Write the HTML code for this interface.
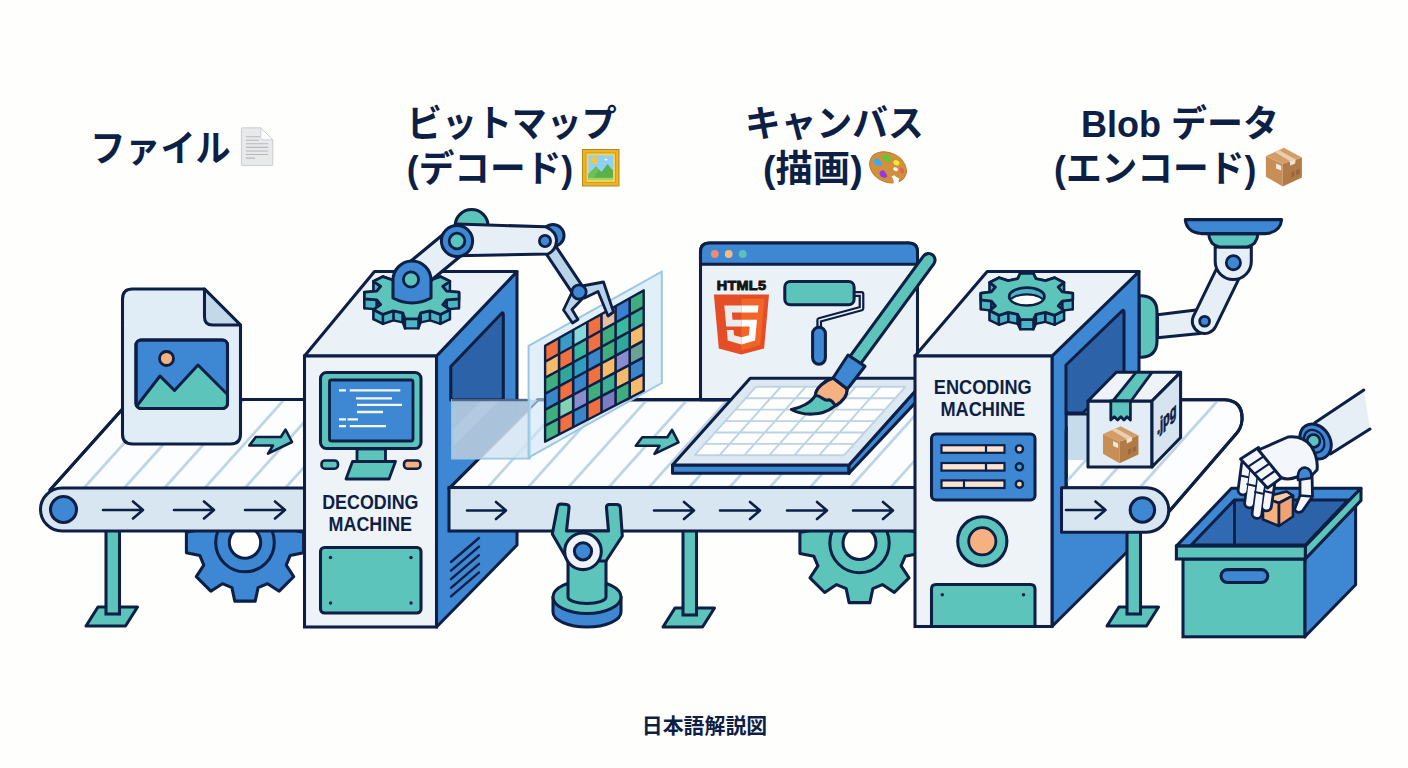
<!DOCTYPE html>
<html lang="ja"><head><meta charset="utf-8"><title>日本語解説図</title>
<style>
html,body{margin:0;padding:0;background:#fefefd;}
body{width:1408px;height:768px;overflow:hidden;}
svg{display:block}
text{font-family:"Liberation Sans","Noto Sans CJK JP",sans-serif;}
.t{font-weight:700;fill:#0e1f45;}
</style></head><body>
<svg width="1408" height="768" viewBox="0 0 1408 768">
<rect width="1408" height="768" fill="#fefefd"/>
<text class="t" transform="translate(90.2 161.5) scale(0.950 1)" font-size="37" text-anchor="start" >ファイル</text>
<text class="t" transform="translate(407.0 137.2) scale(0.945 1)" font-size="37" text-anchor="start" >ビットマップ</text>
<text class="t" transform="translate(406.8 181.5) scale(0.964 1)" font-size="37" text-anchor="start" >(デコード)</text>
<text class="t" transform="translate(745.1 137.2) scale(0.966 1)" font-size="37" text-anchor="start" >キャンバス</text>
<text class="t" transform="translate(763.0 181.5) scale(1.010 1)" font-size="37" text-anchor="start" >(描画)</text>
<text class="t" transform="translate(1081.0 137.2) scale(0.974 1)" font-size="37" text-anchor="start" >Blob データ</text>
<text class="t" transform="translate(1054.0 181.5) scale(0.966 1)" font-size="37" text-anchor="start" >(エンコード)</text>
<text class="t" transform="translate(704.5 732.6) scale(1.000 1)" font-size="20.9" text-anchor="middle" >日本語解説図</text>
<g transform="translate(241 127)">
<path d="M1.2 0.8 Q0.4 0.8 0.4 1.6 V37.8 Q0.4 38.6 1.2 38.6 H31 Q31.8 38.6 31.8 37.8 V12.8 L19.8 0.8Z" fill="#e7e9eb" stroke="#c6cacd" stroke-width="0.9"/>
<path d="M19.8 0.8 L31.8 12.8 H22 Q19.8 12.8 19.8 10.6Z" fill="#fbfbfb" stroke="#c6cacd" stroke-width="0.8"/>
<g stroke="#b4b9bd" stroke-width="1.1"><path d="M5 9.7H19M5 13.3H18M5 16.8H27.3M5 20.4H27.3M5 24H27.3M5 27.5H27.3M5 31.1H14"/></g>
</g>
<g transform="translate(582 149)">
<rect x="0.5" y="0.5" width="36.5" height="36.5" fill="#e9b32c" stroke="#b98713" stroke-width="1"/>
<rect x="4" y="4" width="29.5" height="29.5" fill="#f7d257" stroke="#c9961c" stroke-width="0.8"/>
<rect x="6.5" y="6.5" width="24.5" height="24.5" fill="#8fd1f5"/>
<path d="M6.5 31 V25 L14 17.5 L19.5 23 L25.5 15 L31 21.5 V31Z" fill="#5cb04a"/>
<path d="M6.5 31 V25 L14 17.5 L17 21 L10 31Z" fill="#6cc057"/>
<rect x="6.5" y="28.8" width="24.5" height="2.2" fill="#9bdb5b"/>
<circle cx="12.3" cy="11.5" r="3.2" fill="#fbc62d"/>
<ellipse cx="24" cy="10.6" rx="1.6" ry="0.9" fill="#ffffff"/>
</g>
<g>
<ellipse cx="888" cy="167.4" rx="19.3" ry="14.6" transform="rotate(27 888 167.4)" fill="#d1903c" stroke="#b87a2c" stroke-width="0.9"/>
<path d="M894 175.3 Q897 177.6 899.3 178.6 L897.5 186 L893 186 Q894.8 180 891.5 176.5Z" fill="#fefefd"/>
<ellipse cx="895.6" cy="169.2" rx="3" ry="2.2" transform="rotate(27 895.6 169.2)" fill="#fefefd" stroke="#b87a2c" stroke-width="0.7"/>
<ellipse cx="877.6" cy="162.3" rx="4.4" ry="3" transform="rotate(35 877.6 162.3)" fill="#3fa9f0"/>
<ellipse cx="886.6" cy="158.2" rx="4.3" ry="2.8" transform="rotate(27 886.6 158.2)" fill="#4fd13c"/>
<ellipse cx="896.4" cy="162.8" rx="3.2" ry="2.6" transform="rotate(27 896.4 162.8)" fill="#f7e52e"/>
<ellipse cx="901.9" cy="170.6" rx="1.9" ry="3" transform="rotate(-25 901.9 170.6)" fill="#ee5a63"/>
<path d="M879.5 173 Q881 169 884.5 171 L887.5 176 Q886 178.5 884.3 177.3 L884 179 L883 177.2 Q880 177.5 879.5 173Z" fill="#9a35e0"/>
</g>
<g transform="translate(1265.5 147.8)"><path d="M0.4 8.2 L17.2 16 V38.7 L0.4 28.9Z" fill="#c78e56"/>
<path d="M17.2 16 L36.4 9.8 V29.7 L17.2 38.7Z" fill="#b27a46"/>
<path d="M0.4 8.2 L18.4 0 L36.4 9.8 L17.2 16Z" fill="#d49c66"/>
<path d="M9.4 4.3 L13.7 2.4 L30.1 11.7 L24.3 13.3Z" fill="#e8cfb4"/>
<path d="M24.3 13.3 L30.1 11.7 L29.7 15.6 L24.7 18Z" fill="#f0e2d2"/>
<path d="M10.6 15.6 L15.7 18 V22.7 L10.6 20.7Z" fill="#eeeae4"/>
<path d="M25.8 24.5 l3.2 -1.3 v5 l-3.2 1.4z M30.6 22.4 l3.4 -1.4 v5 l-3.4 1.5z" fill="#96683d"/></g>
<path d="M290.1 529.4 L303.6 532.3 L303.6 552.7 L290.1 555.6 L286.2 565.1 L293.7 576.7 L279.2 591.2 L267.6 583.7 L258.1 587.6 L255.2 601.1 L234.8 601.1 L231.9 587.6 L222.4 583.7 L210.8 591.2 L196.3 576.7 L203.8 565.1 L199.9 555.6 L186.4 552.7 L186.4 532.3 L199.9 529.4 L203.8 519.9 L196.3 508.3 L210.8 493.8 L222.4 501.3 L231.9 497.4 L234.8 483.9 L255.2 483.9 L258.1 497.4 L267.6 501.3 L279.2 493.8 L293.7 508.3 L286.2 519.9Z" fill="#3e87d2" stroke="#0e1f45" stroke-width="3.05" stroke-linejoin="round" stroke-linecap="round" />
<circle cx="245.0" cy="542.5" r="29.3" fill="#3e87d2" stroke="#0e1f45" stroke-width="3.05"/>
<circle cx="245.0" cy="542.5" r="15.7" fill="#fefefd" stroke="#0e1f45" stroke-width="3.05"/>
<polygon points="98.0,607.0 137.5,607.0 125.5,626.0 86.0,626.0" fill="#5cc4bb" stroke="#0e1f45" stroke-width="3.05" stroke-linejoin="round" />
<rect x="106.0" y="528.0" width="13.5" height="86.0" rx="0.0" fill="#5cc4bb" stroke="#0e1f45" stroke-width="3.05" />
<clipPath id="cb1"><polygon points="50,490 131,399.5 306,399.5 306,490"/></clipPath>
<polygon points="50.0,490.0 131.0,399.5 306.0,399.5 306.0,490.0" fill="#fbfdfe" stroke="#0e1f45" stroke-width="3.05" stroke-linejoin="round" />
<path d="M2.4 489 L82.7 399.5 M42.7 489 L123.0 399.5 M83.0 489 L163.3 399.5 M123.3 489 L203.6 399.5 M163.6 489 L243.9 399.5 M203.9 489 L284.2 399.5 M244.2 489 L324.5 399.5 M284.5 489 L364.8 399.5 M324.8 489 L405.1 399.5 M365.1 489 L445.4 399.5" stroke="#bfd4e5" stroke-width="2.7" fill="none" clip-path="url(#cb1)"/>
<polygon points="50.0,490.0 131.0,399.5 306.0,399.5 306.0,490.0" fill="none" stroke="#0e1f45" stroke-width="3.05" stroke-linejoin="round" />
<path d="M62 488 H306 V531 H62 A21.5 21.5 0 0 1 62 488Z" fill="#d8e6f1" stroke="#0e1f45" stroke-width="3.05" stroke-linejoin="round" stroke-linecap="round" />
<circle cx="63.5" cy="509.5" r="13.0" fill="#3e87d2" stroke="#0e1f45" stroke-width="3.05"/>
<path d="M103.0 510.0 H143.0 M133.0 501.5 L143.0 510.0 L133.0 518.5" fill="none" stroke="#0e1f45" stroke-width="2.6" stroke-linejoin="round" stroke-linecap="round" stroke-linejoin="miter"/>
<path d="M174.0 510.0 H214.0 M204.0 501.5 L214.0 510.0 L204.0 518.5" fill="none" stroke="#0e1f45" stroke-width="2.6" stroke-linejoin="round" stroke-linecap="round" stroke-linejoin="miter"/>
<path d="M245.0 510.0 H285.0 M275.0 501.5 L285.0 510.0 L275.0 518.5" fill="none" stroke="#0e1f45" stroke-width="2.6" stroke-linejoin="round" stroke-linecap="round" stroke-linejoin="miter"/>
<polygon points="255.8,437.0 280.8,437.0 285.5,429.6 292.0,442.0 268.0,453.6 273.0,445.5 249.3,445.5" fill="#5cc4bb" stroke="#0e1f45" stroke-width="2.6" stroke-linejoin="round" />
<path d="M132.5 289 H204.5 L240.5 325 V434 Q240.5 444 230.5 444 H132.5 Q122.5 444 122.5 434 V299 Q122.5 289 132.5 289Z" fill="#e0ecf6" stroke="#0e1f45" stroke-width="3.05" stroke-linejoin="round" stroke-linecap="round" />
<path d="M204.5 289 L240.5 325 H212.5 Q204.5 325 204.5 317Z" fill="#c3d9ea" stroke="#0e1f45" stroke-width="3.05" stroke-linejoin="round" stroke-linecap="round" />
<rect x="136.0" y="340.0" width="91.5" height="68.5" rx="5.0" fill="#3e87d2" stroke="#0e1f45" stroke-width="3.05" />
<clipPath id="cimg"><rect x="137.6" y="341.6" width="88.3" height="65.3" rx="3.5"/></clipPath>
<path d="M136 407 L160 376 L174.5 390.5 L198 365 L228 395 V409 H136Z" fill="#5cc4bb" stroke="#0e1f45" stroke-width="3" stroke-linejoin="round" stroke-linecap="round" clip-path="url(#cimg)"/>
<rect x="136.0" y="340.0" width="91.5" height="68.5" rx="5.0" fill="none" stroke="#0e1f45" stroke-width="3.05" />
<circle cx="166.5" cy="358.5" r="7.0" fill="#f6b180" stroke="#0e1f45" stroke-width="2.8"/>
<polygon points="436.5,356.0 517.0,271.5 517.0,545.0 436.5,627.0" fill="#3e87d2" stroke="#0e1f45" stroke-width="3.05" stroke-linejoin="round" />
<line x1="451.0" y1="562.0" x2="479.0" y2="538.0" stroke="#0e1f45" stroke-width="2.4" stroke-linecap="round" />
<line x1="451.0" y1="570.6" x2="479.0" y2="546.6" stroke="#0e1f45" stroke-width="2.4" stroke-linecap="round" />
<line x1="451.0" y1="579.2" x2="479.0" y2="555.2" stroke="#0e1f45" stroke-width="2.4" stroke-linecap="round" />
<line x1="451.0" y1="587.8" x2="479.0" y2="563.8" stroke="#0e1f45" stroke-width="2.4" stroke-linecap="round" />
<line x1="451.0" y1="596.4" x2="479.0" y2="572.4" stroke="#0e1f45" stroke-width="2.4" stroke-linecap="round" />
<path d="M450.8 400 V366.5 L501.5 313.5 Q503.3 311.5 503.3 315 V400Z" fill="#2b62a8" stroke="#0e1f45" stroke-width="3.05" stroke-linejoin="round" stroke-linecap="round" />
<path d="M496.5 320 V400" fill="none" stroke="#3a78c4" stroke-width="0" stroke-linejoin="round" stroke-linecap="round" />
<polygon points="304.5,356.0 374.5,271.5 517.0,271.5 436.5,356.0" fill="#eaf1f7" stroke="#0e1f45" stroke-width="3.05" stroke-linejoin="round" />
<rect x="304.5" y="356.0" width="132.0" height="271.0" rx="0.0" fill="#eef3f8" stroke="#0e1f45" stroke-width="3.05" />
<rect x="320.5" y="372.5" width="100.5" height="76.0" rx="6.0" fill="#5cc4bb" stroke="#0e1f45" stroke-width="3.05" />
<rect x="329.5" y="380.0" width="83.5" height="61.0" rx="2.0" fill="#3e87d2" stroke="#0e1f45" stroke-width="2.8" />
<path d="M339.0 390.3H346.0 M349.7 390.3H400.3 M356.0 398.4H392.0 M357.0 404.8H402.0 M357.0 412.0H383.0 M339.0 419.3H346.0 M347.5 419.3H358.0 M339.0 426.2H346.0 M349.7 426.2H386.0" stroke="#f4f9fd" stroke-width="2.3" fill="none"/>
<rect x="357.0" y="449.0" width="28.5" height="12.5" rx="0.0" fill="#5cc4bb" stroke="#0e1f45" stroke-width="2.8" />
<polygon points="352.5,461.5 395.5,461.5 389.0,479.0 346.0,479.0" fill="#5cc4bb" stroke="#0e1f45" stroke-width="2.8" stroke-linejoin="round" />
<rect x="321.5" y="460.5" width="16.5" height="8.2" rx="3.5" fill="#5cc4bb" stroke="#0e1f45" stroke-width="2.6" />
<rect x="404.0" y="460.5" width="16.5" height="8.2" rx="3.5" fill="#f6b180" stroke="#0e1f45" stroke-width="2.6" />
<text class="t" transform="translate(370.3 509.3) scale(0.885 1)" font-size="20.2" text-anchor="middle">DECODING</text>
<text class="t" transform="translate(370.3 530.8) scale(0.885 1)" font-size="20.2" text-anchor="middle">MACHINE</text>
<rect x="320.5" y="547.5" width="100.5" height="65.5" rx="4.0" fill="#5cc4bb" stroke="#0e1f45" stroke-width="3.05" />
<circle cx="330.5" cy="557.5" r="1.7" fill="#0e1f45" stroke="#0e1f45" stroke-width="0"/>
<circle cx="411.0" cy="557.5" r="1.7" fill="#0e1f45" stroke="#0e1f45" stroke-width="0"/>
<circle cx="330.5" cy="603.0" r="1.7" fill="#0e1f45" stroke="#0e1f45" stroke-width="0"/>
<circle cx="411.0" cy="603.0" r="1.7" fill="#0e1f45" stroke="#0e1f45" stroke-width="0"/>
<path d="M905.1 529.7 L919.1 532.6 L919.1 553.4 L905.1 556.3 L901.1 565.9 L909.0 577.8 L894.3 592.5 L882.4 584.6 L872.8 588.6 L869.9 602.6 L849.1 602.6 L846.2 588.6 L836.6 584.6 L824.7 592.5 L810.0 577.8 L817.9 565.9 L813.9 556.3 L799.9 553.4 L799.9 532.6 L813.9 529.7 L817.9 520.1 L810.0 508.2 L824.7 493.5 L836.6 501.4 L846.2 497.4 L849.1 483.4 L869.9 483.4 L872.8 497.4 L882.4 501.4 L894.3 493.5 L909.0 508.2 L901.1 520.1Z" fill="#5cc4bb" stroke="#0e1f45" stroke-width="3.05" stroke-linejoin="round" stroke-linecap="round" />
<circle cx="859.5" cy="543.0" r="29.7" fill="#5cc4bb" stroke="#0e1f45" stroke-width="3.05"/>
<circle cx="859.5" cy="543.0" r="16.5" fill="#fefefd" stroke="#0e1f45" stroke-width="3.05"/>
<polygon points="675.0,608.0 714.5,608.0 702.5,627.0 663.0,627.0" fill="#5cc4bb" stroke="#0e1f45" stroke-width="3.05" stroke-linejoin="round" />
<rect x="683.0" y="528.0" width="13.5" height="87.0" rx="0.0" fill="#5cc4bb" stroke="#0e1f45" stroke-width="3.05" />
<clipPath id="cb2"><polygon points="449,488.5 538,399.6 922,399.6 922,488.5"/></clipPath>
<polygon points="449.0,488.5 538.0,399.6 922.0,399.6 922.0,488.5" fill="#fbfdfe" stroke="#0e1f45" stroke-width="3.05" stroke-linejoin="round" />
<path d="M325.1 489 L405.4 399.5 M365.4 489 L445.7 399.5 M405.7 489 L486.0 399.5 M446.0 489 L526.3 399.5 M486.3 489 L566.6 399.5 M526.6 489 L606.9 399.5 M566.9 489 L647.2 399.5 M607.2 489 L687.5 399.5 M647.5 489 L727.8 399.5 M687.8 489 L768.1 399.5 M728.1 489 L808.4 399.5 M768.4 489 L848.7 399.5 M808.7 489 L889.0 399.5 M849.0 489 L929.3 399.5 M889.3 489 L969.6 399.5 M929.6 489 L1009.9 399.5 M969.9 489 L1050.2 399.5" stroke="#bfd4e5" stroke-width="2.7" fill="none" clip-path="url(#cb2)"/>
<polygon points="449.0,488.5 538.0,399.6 922.0,399.6 922.0,488.5" fill="none" stroke="#0e1f45" stroke-width="3.05" stroke-linejoin="round" />
<rect x="449.0" y="487.5" width="472.0" height="43.5" rx="0.0" fill="#d8e6f1" stroke="#0e1f45" stroke-width="3.05" />
<path d="M467.0 510.5 H506.0 M496.0 502.0 L506.0 510.5 L496.0 519.0" fill="none" stroke="#0e1f45" stroke-width="2.6" stroke-linejoin="round" stroke-linecap="round" stroke-linejoin="miter"/>
<path d="M654.0 510.5 H694.0 M684.0 502.0 L694.0 510.5 L684.0 519.0" fill="none" stroke="#0e1f45" stroke-width="2.6" stroke-linejoin="round" stroke-linecap="round" stroke-linejoin="miter"/>
<path d="M720.0 510.5 H760.0 M750.0 502.0 L760.0 510.5 L750.0 519.0" fill="none" stroke="#0e1f45" stroke-width="2.6" stroke-linejoin="round" stroke-linecap="round" stroke-linejoin="miter"/>
<path d="M787.0 510.5 H827.0 M817.0 502.0 L827.0 510.5 L817.0 519.0" fill="none" stroke="#0e1f45" stroke-width="2.6" stroke-linejoin="round" stroke-linecap="round" stroke-linejoin="miter"/>
<path d="M853.0 510.5 H893.0 M883.0 502.0 L893.0 510.5 L883.0 519.0" fill="none" stroke="#0e1f45" stroke-width="2.6" stroke-linejoin="round" stroke-linecap="round" stroke-linejoin="miter"/>
<polygon points="642.3,437.3 667.3,437.3 672.0,429.9 678.5,442.3 654.5,453.9 659.5,445.8 635.8,445.8" fill="#5cc4bb" stroke="#0e1f45" stroke-width="2.6" stroke-linejoin="round" />
<path d="M553.0 597 V612 A34 15 0 0 0 621.0 612 V597Z" fill="#3e87d2" stroke="#0e1f45" stroke-width="3.05" stroke-linejoin="round" stroke-linecap="round" />
<ellipse cx="587.0" cy="597" rx="34" ry="16.5" fill="#5cc4bb" stroke="#0e1f45" stroke-width="3.05"/>
<path d="M568 560 V597 A19 6.5 0 0 0 606 597 V560Z" fill="#5cc4bb" stroke="#0e1f45" stroke-width="3.05" stroke-linejoin="round" stroke-linecap="round" />
<path d="M557.5 507 Q558 504 561 504 L566.5 504.5 Q569.5 505 569 508 L566.5 531 H608.5 L606.5 508 Q606 505 609 504.5 L616.5 504.5 Q620 504.5 620.3 507.5 L622.3 536 L606 561 H568 L552.3 534Z" fill="#5cc4bb" stroke="#0e1f45" stroke-width="3.05" stroke-linejoin="round" stroke-linecap="round" />
<circle cx="583.0" cy="551.3" r="18.3" fill="#edf3f9" stroke="#0e1f45" stroke-width="3.05"/>
<circle cx="583.0" cy="551.3" r="8.6" fill="#3e87d2" stroke="#0e1f45" stroke-width="3.05"/>
<path d="M700.5 399.6 V252 Q700.5 243 709.5 243 H908.5 Q917.5 243 917.5 252 V399.6Z" fill="#eaf1f7" stroke="#0e1f45" stroke-width="3.05" stroke-linejoin="round" stroke-linecap="round" />
<path d="M700.5 264.3 V252 Q700.5 243 709.5 243 H908.5 Q917.5 243 917.5 252 V264.3Z" fill="#3e87d2" stroke="#0e1f45" stroke-width="3.05" stroke-linejoin="round" stroke-linecap="round" />
<circle cx="714.8" cy="254.0" r="3.9" fill="#f08b72" stroke="#0e1f45" stroke-width="0"/>
<circle cx="728.7" cy="254.0" r="3.9" fill="#f6ba80" stroke="#0e1f45" stroke-width="0"/>
<circle cx="742.7" cy="254.0" r="3.9" fill="#5cc1b6" stroke="#0e1f45" stroke-width="0"/>
<text transform="translate(741.5 289.8) scale(1.13 1)" font-size="12.8" font-weight="700" text-anchor="middle" fill="#141414" stroke="#141414" stroke-width="0.9" style="letter-spacing:0.2px">HTML5</text>
<path d="M713.9 294.6 H769 L764.1 348.4 L741.3 354.6 L718.8 348.4Z" fill="#e44d26"/>
<path d="M741.4 298.8 H764.5 L760.3 345 L741.4 350.2Z" fill="#f16529"/>
<path d="M741.4 305.5 H724.3 L726.2 326.6 H741.4 V319.7 H732.5 L731.9 312.4 H741.4Z M741.4 337.3 L734 335.3 L733.5 330 H726.8 L727.7 340.6 L741.4 344.4Z" fill="#ebebeb"/>
<path d="M741.4 305.5 V312.4 H757.9 L758.5 305.5Z M741.4 319.7 V326.6 H749.7 L748.9 335.3 L741.4 337.3 V344.4 L755.1 340.6 L757 319.7Z" fill="#ffffff"/>
<path d="M852 294 H861.5 V308.5 L819.2 320 V330" fill="none" stroke="#0e1f45" stroke-width="5.8" stroke-linejoin="round" stroke-linecap="round" />
<path d="M852 294 H861.5 V308.5 L819.2 320 V330" fill="none" stroke="#eaf1f7" stroke-width="1.3" stroke-linejoin="round" stroke-linecap="round" />
<rect x="784.8" y="281.5" width="69.3" height="23.2" rx="5.5" fill="#5cc4bb" stroke="#0e1f45" stroke-width="3.05" />
<rect x="812.6" y="327.2" width="12.8" height="37.0" rx="6.4" fill="#3e87d2" stroke="#0e1f45" stroke-width="3.05" />
<polygon points="672.5,465.0 849.0,465.0 849.0,473.3 672.5,473.3" fill="#3e87d2" stroke="#0e1f45" stroke-width="3.05" stroke-linejoin="round" />
<polygon points="849.0,465.0 926.7,378.2 926.7,390.6 849.0,473.3" fill="#3e87d2" stroke="#0e1f45" stroke-width="3.05" stroke-linejoin="round" />
<polygon points="672.5,465.0 750.2,378.2 926.7,378.2 849.0,465.0" fill="#dce8f2" stroke="#0e1f45" stroke-width="3.05" stroke-linejoin="round" />
<polygon points="755.9,386.8 905.4,386.8 844.0,455.3 694.5,455.3" fill="#fdfefe"/>
<path d="M755.9 386.8L694.5 455.3 M755.9 386.8L905.4 386.8 M780.8 386.8L719.4 455.3 M745.7 398.2L895.2 398.2 M805.7 386.8L744.3 455.3 M735.4 409.6L884.9 409.6 M830.6 386.8L769.2 455.3 M725.2 421.1L874.7 421.1 M855.6 386.8L794.2 455.3 M715.0 432.5L864.5 432.5 M880.5 386.8L819.1 455.3 M704.7 443.9L854.2 443.9 M905.4 386.8L844.0 455.3 M694.5 455.3L844.0 455.3" stroke="#bfd2e1" stroke-width="1.9" fill="none"/>
<line x1="928.6" y1="260.0" x2="855.0" y2="360.5" stroke="#0e1f45" stroke-width="16" stroke-linecap="round" />
<line x1="928.6" y1="260.0" x2="855.0" y2="360.5" stroke="#5cc4bb" stroke-width="9.8" stroke-linecap="round" />
<path d="M833.5 378 C824 381 816 388 815.3 395.5 C811 403 800 408 791.4 409.5 C803 416 822 416 833.5 407 C842 402 847.5 396 847 388.8Z" fill="#5cc4bb" stroke="#0e1f45" stroke-width="3.05" stroke-linejoin="round" stroke-linecap="round" />
<path d="M833.5 378 C824 381 816 388 815.3 395.5 C821 395 824 401.5 828 400 C832 399 834 404.5 835.5 405.5 C843 401 847.5 396 847 388.8Z" fill="#f6b180" stroke="#0e1f45" stroke-width="3.05" stroke-linejoin="round" stroke-linecap="round" />
<polygon points="848.0,355.0 865.0,366.2 847.4,389.0 833.0,378.0" fill="#3e87d2" stroke="#0e1f45" stroke-width="3.05" stroke-linejoin="round" />
<path d="M1139 295.8 H1142 Q1157 297 1157 312 V341 Q1157 356 1142 357.3 H1139Z" fill="#5cc4bb" stroke="#0e1f45" stroke-width="3.05" stroke-linejoin="round" stroke-linecap="round" />
<polygon points="1052.0,356.0 1139.0,271.5 1139.0,540.0 1052.0,626.5" fill="#3e87d2" stroke="#0e1f45" stroke-width="3.05" stroke-linejoin="round" />
<path d="M1066 413 V365 L1122 311 Q1124 309 1124 313 V413Z" fill="#2b62a8" stroke="#0e1f45" stroke-width="3.05" stroke-linejoin="round" stroke-linecap="round" />
<polygon points="915.0,356.0 987.2,271.5 1139.0,271.5 1052.0,356.0" fill="#eaf1f7" stroke="#0e1f45" stroke-width="3.05" stroke-linejoin="round" />
<rect x="915.0" y="356.0" width="137.0" height="270.5" rx="0.0" fill="#eef3f8" stroke="#0e1f45" stroke-width="3.05" />
<text class="t" transform="translate(982.8 393.8) scale(0.90 1)" font-size="20.2" text-anchor="middle">ENCODING</text>
<text class="t" transform="translate(982.8 416) scale(0.90 1)" font-size="20.2" text-anchor="middle">MACHINE</text>
<rect x="931.5" y="434.0" width="103.5" height="66.0" rx="4.5" fill="#3e87d2" stroke="#0e1f45" stroke-width="3.05" />
<rect x="941.5" y="445.2" width="63.0" height="7.6" rx="0.0" fill="#fbe3d2" stroke="#0e1f45" stroke-width="2.2" />
<line x1="986.0" y1="445.2" x2="986.0" y2="452.8" stroke="#0e1f45" stroke-width="2.2" stroke-linecap="round" />
<rect x="941.5" y="463.0" width="63.0" height="7.6" rx="0.0" fill="#fbe3d2" stroke="#0e1f45" stroke-width="2.2" />
<line x1="986.0" y1="463.0" x2="986.0" y2="470.6" stroke="#0e1f45" stroke-width="2.2" stroke-linecap="round" />
<rect x="941.5" y="480.4" width="63.0" height="7.6" rx="0.0" fill="#fbe3d2" stroke="#0e1f45" stroke-width="2.2" />
<line x1="964.0" y1="480.4" x2="964.0" y2="488.0" stroke="#0e1f45" stroke-width="2.2" stroke-linecap="round" />
<circle cx="1019.4" cy="449.0" r="3.6" fill="#f9d0ae" stroke="#0e1f45" stroke-width="2.4"/>
<circle cx="1019.4" cy="466.8" r="3.6" fill="#4f9fc8" stroke="#0e1f45" stroke-width="2.4"/>
<circle cx="1019.4" cy="484.2" r="3.6" fill="#f9d0ae" stroke="#0e1f45" stroke-width="2.4"/>
<circle cx="982.3" cy="541.3" r="24.6" fill="#5cc4bb" stroke="#0e1f45" stroke-width="3.05"/>
<circle cx="982.3" cy="541.3" r="13.6" fill="#f6b180" stroke="#0e1f45" stroke-width="2.8"/>
<path d="M931.5 626.5 V589 Q931.5 584.5 936 584.5 H1030.5 Q1035 584.5 1035 589 V626.5Z" fill="#5cc4bb" stroke="#0e1f45" stroke-width="3.05" stroke-linejoin="round" stroke-linecap="round" />
<circle cx="942.3" cy="594.7" r="1.7" fill="#0e1f45" stroke="#0e1f45" stroke-width="0"/>
<circle cx="1023.5" cy="594.7" r="1.7" fill="#0e1f45" stroke="#0e1f45" stroke-width="0"/>
<polygon points="1020.2,273.3 1033.4,273.3 1033.4,282.8 1020.2,282.8" fill="#4db4c6" stroke="#0e1f45" stroke-width="2.4" stroke-linejoin="round"/>
<polygon points="1017.7,278.6 1020.2,273.3 1020.2,282.8 1017.7,288.1" fill="#4db4c6" stroke="#0e1f45" stroke-width="2.4" stroke-linejoin="round"/>
<polygon points="1033.4,273.3 1035.9,278.6 1035.9,288.1 1033.4,282.8" fill="#4db4c6" stroke="#0e1f45" stroke-width="2.4" stroke-linejoin="round"/>
<polygon points="1045.4,280.6 1054.7,277.7 1054.7,287.2 1045.4,290.1" fill="#4db4c6" stroke="#0e1f45" stroke-width="2.4" stroke-linejoin="round"/>
<polygon points="998.9,277.7 1008.2,280.6 1008.2,290.1 998.9,287.2" fill="#4db4c6" stroke="#0e1f45" stroke-width="2.4" stroke-linejoin="round"/>
<polygon points="1035.9,278.6 1045.4,280.6 1045.4,290.1 1035.9,288.1" fill="#4db4c6" stroke="#0e1f45" stroke-width="2.4" stroke-linejoin="round"/>
<polygon points="1008.2,280.6 1017.7,278.6 1017.7,288.1 1008.2,290.1" fill="#4db4c6" stroke="#0e1f45" stroke-width="2.4" stroke-linejoin="round"/>
<polygon points="1054.7,277.7 1064.0,282.4 1064.0,291.9 1054.7,287.2" fill="#4db4c6" stroke="#0e1f45" stroke-width="2.4" stroke-linejoin="round"/>
<polygon points="989.6,282.4 998.9,277.7 998.9,287.2 989.6,291.9" fill="#4db4c6" stroke="#0e1f45" stroke-width="2.4" stroke-linejoin="round"/>
<polygon points="1064.0,282.4 1058.2,287.1 1058.2,296.6 1064.0,291.9" fill="#4db4c6" stroke="#0e1f45" stroke-width="2.4" stroke-linejoin="round"/>
<polygon points="995.4,287.1 989.6,282.4 989.6,291.9 995.4,296.6" fill="#4db4c6" stroke="#0e1f45" stroke-width="2.4" stroke-linejoin="round"/>
<polygon points="1058.2,287.1 1062.2,291.9 1062.2,301.4 1058.2,296.6" fill="#4db4c6" stroke="#0e1f45" stroke-width="2.4" stroke-linejoin="round"/>
<polygon points="991.4,291.9 995.4,287.1 995.4,296.6 991.4,301.4" fill="#4db4c6" stroke="#0e1f45" stroke-width="2.4" stroke-linejoin="round"/>
<polygon points="1062.2,291.9 1072.8,293.2 1072.8,302.7 1062.2,301.4" fill="#4db4c6" stroke="#0e1f45" stroke-width="2.4" stroke-linejoin="round"/>
<polygon points="980.8,293.2 991.4,291.9 991.4,301.4 980.8,302.7" fill="#4db4c6" stroke="#0e1f45" stroke-width="2.4" stroke-linejoin="round"/>
<polygon points="1072.8,293.2 1072.8,299.8 1072.8,309.3 1072.8,302.7" fill="#4db4c6" stroke="#0e1f45" stroke-width="2.4" stroke-linejoin="round"/>
<polygon points="980.8,299.8 980.8,293.2 980.8,302.7 980.8,309.3" fill="#4db4c6" stroke="#0e1f45" stroke-width="2.4" stroke-linejoin="round"/>
<polygon points="1072.8,299.8 1062.2,301.1 1062.2,310.6 1072.8,309.3" fill="#4db4c6" stroke="#0e1f45" stroke-width="2.4" stroke-linejoin="round"/>
<polygon points="991.4,301.1 980.8,299.8 980.8,309.3 991.4,310.6" fill="#4db4c6" stroke="#0e1f45" stroke-width="2.4" stroke-linejoin="round"/>
<polygon points="1062.2,301.1 1058.2,305.9 1058.2,315.4 1062.2,310.6" fill="#4db4c6" stroke="#0e1f45" stroke-width="2.4" stroke-linejoin="round"/>
<polygon points="995.4,305.9 991.4,301.1 991.4,310.6 995.4,315.4" fill="#4db4c6" stroke="#0e1f45" stroke-width="2.4" stroke-linejoin="round"/>
<polygon points="1058.2,305.9 1064.0,310.6 1064.0,320.1 1058.2,315.4" fill="#4db4c6" stroke="#0e1f45" stroke-width="2.4" stroke-linejoin="round"/>
<polygon points="989.6,310.6 995.4,305.9 995.4,315.4 989.6,320.1" fill="#4db4c6" stroke="#0e1f45" stroke-width="2.4" stroke-linejoin="round"/>
<polygon points="1064.0,310.6 1054.7,315.3 1054.7,324.8 1064.0,320.1" fill="#4db4c6" stroke="#0e1f45" stroke-width="2.4" stroke-linejoin="round"/>
<polygon points="998.9,315.3 989.6,310.6 989.6,320.1 998.9,324.8" fill="#4db4c6" stroke="#0e1f45" stroke-width="2.4" stroke-linejoin="round"/>
<polygon points="1045.4,312.4 1035.9,314.4 1035.9,323.9 1045.4,321.9" fill="#4db4c6" stroke="#0e1f45" stroke-width="2.4" stroke-linejoin="round"/>
<polygon points="1017.7,314.4 1008.2,312.4 1008.2,321.9 1017.7,323.9" fill="#4db4c6" stroke="#0e1f45" stroke-width="2.4" stroke-linejoin="round"/>
<polygon points="1054.7,315.3 1045.4,312.4 1045.4,321.9 1054.7,324.8" fill="#4db4c6" stroke="#0e1f45" stroke-width="2.4" stroke-linejoin="round"/>
<polygon points="1008.2,312.4 998.9,315.3 998.9,324.8 1008.2,321.9" fill="#4db4c6" stroke="#0e1f45" stroke-width="2.4" stroke-linejoin="round"/>
<polygon points="1035.9,314.4 1033.4,319.7 1033.4,329.2 1035.9,323.9" fill="#4db4c6" stroke="#0e1f45" stroke-width="2.4" stroke-linejoin="round"/>
<polygon points="1020.2,319.7 1017.7,314.4 1017.7,323.9 1020.2,329.2" fill="#4db4c6" stroke="#0e1f45" stroke-width="2.4" stroke-linejoin="round"/>
<polygon points="1033.4,319.7 1020.2,319.7 1020.2,329.2 1033.4,329.2" fill="#4db4c6" stroke="#0e1f45" stroke-width="2.4" stroke-linejoin="round"/>
<path d="M1017.7 278.6 L1020.2 273.3 L1033.4 273.3 L1035.9 278.6 L1045.4 280.6 L1054.7 277.7 L1064.0 282.4 L1058.2 287.1 L1062.2 291.9 L1072.8 293.2 L1072.8 299.8 L1062.2 301.1 L1058.2 305.9 L1064.0 310.6 L1054.7 315.3 L1045.4 312.4 L1035.9 314.4 L1033.4 319.7 L1020.2 319.7 L1017.7 314.4 L1008.2 312.4 L998.9 315.3 L989.6 310.6 L995.4 305.9 L991.4 301.1 L980.8 299.8 L980.8 293.2 L991.4 291.9 L995.4 287.1 L989.6 282.4 L998.9 277.7 L1008.2 280.6Z" fill="#5cc4bb" stroke="#0e1f45" stroke-width="2.8" stroke-linejoin="round" stroke-linecap="round" />
<ellipse cx="1026.8" cy="296.5" rx="17.6" ry="8.8" fill="#4db4c6" stroke="#0e1f45" stroke-width="2.8"/>
<clipPath id="hg2"><ellipse cx="1026.8" cy="296.5" rx="16.6" ry="7.8"/></clipPath>
<ellipse cx="1026.8" cy="303.1" rx="17.6" ry="8.8" fill="#fbfdfe" stroke="#0e1f45" stroke-width="2.2" clip-path="url(#hg2)"/>
<polygon points="1119.0,607.0 1158.5,607.0 1146.5,626.0 1107.0,626.0" fill="#5cc4bb" stroke="#0e1f45" stroke-width="3.05" stroke-linejoin="round" />
<rect x="1127.0" y="528.0" width="13.5" height="86.0" rx="0.0" fill="#5cc4bb" stroke="#0e1f45" stroke-width="3.05" />
<polygon points="1066.0,414.0 1124.0,414.0 1124.0,460.0 1066.0,460.0" fill="#c6dbeb" stroke="#0e1f45" stroke-width="0" stroke-linejoin="round" />
<clipPath id="cb3"><path d="M1066.2 488 V430 L1096 399.8 H1225 Q1243 401 1242 420 Q1241.5 428 1236 434 L1167 514 L1140 488Z"/></clipPath>
<path d="M1066.2 488 V430 L1096 399.8 H1225 Q1243 401 1242 420 Q1241.5 428 1236 434 L1167 514 L1140 488Z" fill="#fbfdfe" stroke="#0e1f45" stroke-width="3.05" stroke-linejoin="round" stroke-linecap="round" />
<path d="M1060.0 489 L1140.3 399.5 M1098.5 489 L1178.8 399.5 M1138.5 489 L1218.8 399.5" stroke="#bfd4e5" stroke-width="2.7" fill="none" clip-path="url(#cb3)"/>
<rect x="1067.8" y="414" width="22" height="46" fill="#c6dbeb"/>
<path d="M1139 399.8 H1225 Q1243 401 1242 420 Q1241.5 428 1236 434 L1166 515" fill="none" stroke="#0e1f45" stroke-width="3.05" stroke-linejoin="round" stroke-linecap="round" />
<line x1="1066.2" y1="414.0" x2="1066.2" y2="488.0" stroke="#0e1f45" stroke-width="3.05" stroke-linecap="round" />
<line x1="1066.2" y1="414.0" x2="1124.0" y2="414.0" stroke="#0e1f45" stroke-width="3.05" stroke-linecap="round" />
<path d="M1061.5 487.7 H1146.5 A22.2 22.2 0 0 1 1146.5 532.2 H1061.5Z" fill="#d8e6f1" stroke="#0e1f45" stroke-width="3.05" stroke-linejoin="round" stroke-linecap="round" />
<circle cx="1142.4" cy="510.0" r="12.2" fill="#3e87d2" stroke="#0e1f45" stroke-width="3.05"/>
<path d="M1066.0 510.0 H1105.5 M1095.5 501.5 L1105.5 510.0 L1095.5 518.5" fill="none" stroke="#0e1f45" stroke-width="2.6" stroke-linejoin="round" stroke-linecap="round" stroke-linejoin="miter"/>
<polygon points="1088.0,401.0 1152.0,401.0 1152.0,467.0 1088.0,467.0" fill="#e3edf5" stroke="#0e1f45" stroke-width="3.05" stroke-linejoin="round" />
<polygon points="1088.0,401.0 1116.3,372.3 1180.6,372.3 1152.0,401.0" fill="#edf3f9" stroke="#0e1f45" stroke-width="3.05" stroke-linejoin="round" />
<polygon points="1152.0,401.0 1180.6,372.3 1180.6,437.5 1152.0,467.0" fill="#d6e4f0" stroke="#0e1f45" stroke-width="3.05" stroke-linejoin="round" />
<polygon points="1112.8,401.0 1131.0,401.0 1152.0,372.3 1136.0,372.3" fill="#5cc4bb" stroke="#0e1f45" stroke-width="2.8" stroke-linejoin="round" />
<path d="M1110.8 401 V420 L1114.3 416.8 L1117.6 420 L1120.8 416.8 L1124 420 L1127 416.8 L1130.4 420 V401Z" fill="#5cc4bb" stroke="#0e1f45" stroke-width="2.8" stroke-linejoin="round" stroke-linecap="round" />
<g transform="translate(1102.6 426.2) scale(0.985 0.955)"><path d="M0.4 8.2 L17.2 16 V38.7 L0.4 28.9Z" fill="#c78e56"/>
<path d="M17.2 16 L36.4 9.8 V29.7 L17.2 38.7Z" fill="#b27a46"/>
<path d="M0.4 8.2 L18.4 0 L36.4 9.8 L17.2 16Z" fill="#d49c66"/>
<path d="M9.4 4.3 L13.7 2.4 L30.1 11.7 L24.3 13.3Z" fill="#e8cfb4"/>
<path d="M24.3 13.3 L30.1 11.7 L29.7 15.6 L24.7 18Z" fill="#f0e2d2"/>
<path d="M10.6 15.6 L15.7 18 V22.7 L10.6 20.7Z" fill="#eeeae4"/>
<path d="M25.8 24.5 l3.2 -1.3 v5 l-3.2 1.4z M30.6 22.4 l3.4 -1.4 v5 l-3.4 1.5z" fill="#96683d"/></g>
<text class="t" transform="translate(1157 435.2) skewY(-46) scale(0.55 1)" font-size="20" stroke="#0f1d40" stroke-width="0.9">.jpg</text>
<polygon points="1157.5,314.7 1196.0,310.0 1200.0,333.4 1157.5,337.8" fill="#e6eef6" stroke="#0e1f45" stroke-width="3.05" stroke-linejoin="round" />
<line x1="1204.6" y1="321.3" x2="1230.5" y2="268.0" stroke="#0e1f45" stroke-width="27.5" stroke-linecap="round" />
<line x1="1204.6" y1="321.3" x2="1230.5" y2="268.0" stroke="#e6eef6" stroke-width="21.5" stroke-linecap="round" />
<circle cx="1204.6" cy="321.3" r="4.9" fill="#3e87d2" stroke="#0e1f45" stroke-width="2.8"/>
<path d="M1215.2 247 V261.5 A18 18 0 0 0 1251.3 261.5 V247Z" fill="#e6eef6" stroke="#0e1f45" stroke-width="3.05" stroke-linejoin="round" stroke-linecap="round" />
<circle cx="1233.4" cy="262.7" r="7.1" fill="#3e87d2" stroke="#0e1f45" stroke-width="2.8"/>
<path d="M1208.6 233.6 H1258 Q1257 245 1247 247 H1219.5 Q1209.5 245 1208.6 233.6Z" fill="#5cc4bb" stroke="#0e1f45" stroke-width="3.05" stroke-linejoin="round" stroke-linecap="round" />
<path d="M1185.3 219.6 H1281.6 Q1280.5 232 1266 233.6 H1201 Q1186.5 232 1185.3 219.6Z" fill="#3e87d2" stroke="#0e1f45" stroke-width="3.05" stroke-linejoin="round" stroke-linecap="round" />
<polygon points="1176.4,546.1 1231.5,488.3 1361.0,488.3 1305.3,546.1" fill="#3e87d2" stroke="#0e1f45" stroke-width="3.05" stroke-linejoin="round" />
<polygon points="1191.6,544.8 1234.5,500.0 1348.0,500.0 1305.5,544.8" fill="#2b62a8" stroke="#0e1f45" stroke-width="2.8" stroke-linejoin="round" />
<polygon points="1191.6,544.8 1234.5,500.0 1234.5,544.8" fill="#2f6ab3" stroke="#0e1f45" stroke-width="2.8" stroke-linejoin="round" />
<polygon points="1304.8,559.0 1355.6,506.0 1355.6,584.8 1304.8,636.8" fill="#3e87d2" stroke="#0e1f45" stroke-width="3.05" stroke-linejoin="round" />
<rect x="1183.0" y="559.0" width="121.8" height="77.8" rx="0.0" fill="#5cc4bb" stroke="#0e1f45" stroke-width="3.05" />
<polygon points="1305.3,546.1 1361.0,488.3 1361.0,500.5 1305.3,559.0" fill="#5cc4bb" stroke="#0e1f45" stroke-width="3.05" stroke-linejoin="round" />
<rect x="1176.4" y="546.1" width="128.9" height="12.9" rx="0.0" fill="#5cc4bb" stroke="#0e1f45" stroke-width="3.05" />
<rect x="1221.0" y="569.6" width="46.8" height="12.9" rx="6.4" fill="#3e87d2" stroke="#0e1f45" stroke-width="3.05" />
<rect x="452" y="400" width="78" height="58.6" fill="#d2e4f2" fill-opacity="0.85"/>
<polygon points="452,400 537.5,400 479,458.6 452,458.6" fill="#a9c0d9" fill-opacity="0.92"/>
<polygon points="452,430 482,400 500,400 452,448" fill="#b9cde1" fill-opacity="0.6"/>
<rect x="452" y="400" width="78" height="58.6" fill="none" stroke="#9cc7e4" stroke-width="1.8"/>
<line x1="452" y1="400" x2="530" y2="400" stroke="#0e1f45" stroke-width="2.6" stroke-opacity="0.55"/>
<polygon points="528.6,345.8 661.8,271.6 661.8,383 528.6,457.5" fill="#cfe6f5" fill-opacity="0.62" stroke="#9cc7e4" stroke-width="2"/>
<polygon points="545.0,345.8 643.8,290.2 643.8,390.8 545.0,441.8" fill="#0e1f45" stroke="#0e1f45" stroke-width="2.2" stroke-linejoin="round"/>
<polygon points="546.3,346.4 557.8,340.0 557.8,353.3 546.3,359.7" fill="#f0703f"/>
<polygon points="546.3,362.5 557.8,356.1 557.8,369.4 546.3,375.7" fill="#f6bb6a"/>
<polygon points="546.3,378.5 557.8,372.2 557.8,385.5 546.3,391.7" fill="#3fae7c"/>
<polygon points="546.3,394.5 557.8,388.3 557.8,401.6 546.3,407.7" fill="#3b86c8"/>
<polygon points="546.3,410.5 557.8,404.4 557.8,417.7 546.3,423.7" fill="#3fae7c"/>
<polygon points="546.3,426.5 557.8,420.5 557.8,433.8 546.3,439.7" fill="#45b585"/>
<polygon points="560.4,338.5 571.9,332.0 571.9,345.5 560.4,351.9" fill="#3a9cc4"/>
<polygon points="560.4,354.6 571.9,348.3 571.9,361.7 560.4,368.0" fill="#f0703f"/>
<polygon points="560.4,370.8 571.9,364.5 571.9,377.9 560.4,384.1" fill="#2fa79a"/>
<polygon points="560.4,386.9 571.9,380.7 571.9,394.1 560.4,400.2" fill="#f0703f"/>
<polygon points="560.4,403.0 571.9,396.9 571.9,410.3 560.4,416.3" fill="#84d2b4"/>
<polygon points="560.4,419.1 571.9,413.1 571.9,426.5 560.4,432.4" fill="#f0703f"/>
<polygon points="574.5,330.6 586.0,324.1 586.0,337.6 574.5,344.0" fill="#86dadb"/>
<polygon points="574.5,346.8 586.0,340.4 586.0,353.9 574.5,360.2" fill="#3bb8a0"/>
<polygon points="574.5,363.0 586.0,356.8 586.0,370.3 574.5,376.5" fill="#2f9dc0"/>
<polygon points="574.5,379.3 586.0,373.1 586.0,386.6 574.5,392.7" fill="#3b86c8"/>
<polygon points="574.5,395.5 586.0,389.4 586.0,402.9 574.5,408.9" fill="#8a8ccf"/>
<polygon points="574.5,411.7 586.0,405.7 586.0,419.2 574.5,425.2" fill="#3b86c8"/>
<polygon points="588.6,322.6 600.2,316.2 600.2,329.8 588.6,336.2" fill="#f0703f"/>
<polygon points="588.6,339.0 600.2,332.6 600.2,346.2 588.6,352.5" fill="#f0703f"/>
<polygon points="588.6,355.3 600.2,349.0 600.2,362.6 588.6,368.8" fill="#3b86c8"/>
<polygon points="588.6,371.7 600.2,365.5 600.2,379.1 588.6,385.2" fill="#f0703f"/>
<polygon points="588.6,388.0 600.2,381.9 600.2,395.5 588.6,401.5" fill="#3fae7c"/>
<polygon points="588.6,404.3 600.2,398.3 600.2,411.9 588.6,417.9" fill="#f0703f"/>
<polygon points="602.8,314.7 614.3,308.2 614.3,321.9 602.8,328.3" fill="#e6bfa0"/>
<polygon points="602.8,331.2 614.3,324.8 614.3,338.5 602.8,344.8" fill="#3fae7c"/>
<polygon points="602.8,347.6 614.3,341.3 614.3,355.0 602.8,361.2" fill="#3fae7c"/>
<polygon points="602.8,364.1 614.3,357.9 614.3,371.5 602.8,377.7" fill="#f6bb6a"/>
<polygon points="602.8,380.5 614.3,374.4 614.3,388.1 602.8,394.1" fill="#3bb093"/>
<polygon points="602.8,397.0 614.3,390.9 614.3,404.6 602.8,410.6" fill="#7b7cc4"/>
<polygon points="616.9,306.8 628.4,300.3 628.4,314.1 616.9,320.5" fill="#3b7fd0"/>
<polygon points="616.9,323.3 628.4,317.0 628.4,330.7 616.9,337.0" fill="#3bb8a0"/>
<polygon points="616.9,339.9 628.4,333.6 628.4,347.4 616.9,353.6" fill="#2fa79a"/>
<polygon points="616.9,356.5 628.4,350.3 628.4,364.0 616.9,370.2" fill="#8a8ccf"/>
<polygon points="616.9,373.0 628.4,366.9 628.4,380.7 616.9,386.7" fill="#f6bb6a"/>
<polygon points="616.9,389.6 628.4,383.6 628.4,397.3 616.9,403.3" fill="#3fae7c"/>
<polygon points="631.0,298.8 642.5,292.4 642.5,306.2 631.0,312.6" fill="#3fae7c"/>
<polygon points="631.0,315.5 642.5,309.1 642.5,323.0 631.0,329.3" fill="#3bb093"/>
<polygon points="631.0,332.2 642.5,325.9 642.5,339.8 631.0,346.0" fill="#f6bb6a"/>
<polygon points="631.0,348.9 642.5,342.7 642.5,356.5 631.0,362.6" fill="#6fa095"/>
<polygon points="631.0,365.5 642.5,359.4 642.5,373.3 631.0,379.3" fill="#3b86c8"/>
<polygon points="631.0,382.2 642.5,376.2 642.5,390.0 631.0,396.0" fill="#f6bb6a"/>
<polygon points="405.0,272.1 418.4,272.1 418.4,281.6 405.0,281.6" fill="#4db4c6" stroke="#0e1f45" stroke-width="2.4" stroke-linejoin="round"/>
<polygon points="402.7,278.2 405.0,272.1 405.0,281.6 402.7,287.7" fill="#4db4c6" stroke="#0e1f45" stroke-width="2.4" stroke-linejoin="round"/>
<polygon points="418.4,272.1 420.7,278.2 420.7,287.7 418.4,281.6" fill="#4db4c6" stroke="#0e1f45" stroke-width="2.4" stroke-linejoin="round"/>
<polygon points="430.0,280.2 440.4,276.6 440.4,286.1 430.0,289.7" fill="#4db4c6" stroke="#0e1f45" stroke-width="2.4" stroke-linejoin="round"/>
<polygon points="383.0,276.6 393.4,280.2 393.4,289.7 383.0,286.1" fill="#4db4c6" stroke="#0e1f45" stroke-width="2.4" stroke-linejoin="round"/>
<polygon points="440.4,276.6 449.9,281.3 449.9,290.8 440.4,286.1" fill="#4db4c6" stroke="#0e1f45" stroke-width="2.4" stroke-linejoin="round"/>
<polygon points="373.5,281.3 383.0,276.6 383.0,286.1 373.5,290.8" fill="#4db4c6" stroke="#0e1f45" stroke-width="2.4" stroke-linejoin="round"/>
<polygon points="420.7,278.2 430.0,280.2 430.0,289.7 420.7,287.7" fill="#4db4c6" stroke="#0e1f45" stroke-width="2.4" stroke-linejoin="round"/>
<polygon points="393.4,280.2 402.7,278.2 402.7,287.7 393.4,289.7" fill="#4db4c6" stroke="#0e1f45" stroke-width="2.4" stroke-linejoin="round"/>
<polygon points="449.9,281.3 442.7,286.4 442.7,295.9 449.9,290.8" fill="#4db4c6" stroke="#0e1f45" stroke-width="2.4" stroke-linejoin="round"/>
<polygon points="380.7,286.4 373.5,281.3 373.5,290.8 380.7,295.9" fill="#4db4c6" stroke="#0e1f45" stroke-width="2.4" stroke-linejoin="round"/>
<polygon points="442.7,286.4 446.6,291.1 446.6,300.6 442.7,295.9" fill="#4db4c6" stroke="#0e1f45" stroke-width="2.4" stroke-linejoin="round"/>
<polygon points="376.8,291.1 380.7,286.4 380.7,295.9 376.8,300.6" fill="#4db4c6" stroke="#0e1f45" stroke-width="2.4" stroke-linejoin="round"/>
<polygon points="446.6,291.1 459.0,292.2 459.0,301.7 446.6,300.6" fill="#4db4c6" stroke="#0e1f45" stroke-width="2.4" stroke-linejoin="round"/>
<polygon points="364.4,292.2 376.8,291.1 376.8,300.6 364.4,301.7" fill="#4db4c6" stroke="#0e1f45" stroke-width="2.4" stroke-linejoin="round"/>
<polygon points="459.0,292.2 459.0,298.8 459.0,308.3 459.0,301.7" fill="#4db4c6" stroke="#0e1f45" stroke-width="2.4" stroke-linejoin="round"/>
<polygon points="364.4,298.8 364.4,292.2 364.4,301.7 364.4,308.3" fill="#4db4c6" stroke="#0e1f45" stroke-width="2.4" stroke-linejoin="round"/>
<polygon points="459.0,298.8 446.6,299.9 446.6,309.4 459.0,308.3" fill="#4db4c6" stroke="#0e1f45" stroke-width="2.4" stroke-linejoin="round"/>
<polygon points="376.8,299.9 364.4,298.8 364.4,308.3 376.8,309.4" fill="#4db4c6" stroke="#0e1f45" stroke-width="2.4" stroke-linejoin="round"/>
<polygon points="446.6,299.9 442.7,304.6 442.7,314.1 446.6,309.4" fill="#4db4c6" stroke="#0e1f45" stroke-width="2.4" stroke-linejoin="round"/>
<polygon points="380.7,304.6 376.8,299.9 376.8,309.4 380.7,314.1" fill="#4db4c6" stroke="#0e1f45" stroke-width="2.4" stroke-linejoin="round"/>
<polygon points="442.7,304.6 449.9,309.7 449.9,319.2 442.7,314.1" fill="#4db4c6" stroke="#0e1f45" stroke-width="2.4" stroke-linejoin="round"/>
<polygon points="373.5,309.7 380.7,304.6 380.7,314.1 373.5,319.2" fill="#4db4c6" stroke="#0e1f45" stroke-width="2.4" stroke-linejoin="round"/>
<polygon points="430.0,310.8 420.7,312.8 420.7,322.3 430.0,320.3" fill="#4db4c6" stroke="#0e1f45" stroke-width="2.4" stroke-linejoin="round"/>
<polygon points="402.7,312.8 393.4,310.8 393.4,320.3 402.7,322.3" fill="#4db4c6" stroke="#0e1f45" stroke-width="2.4" stroke-linejoin="round"/>
<polygon points="449.9,309.7 440.4,314.4 440.4,323.9 449.9,319.2" fill="#4db4c6" stroke="#0e1f45" stroke-width="2.4" stroke-linejoin="round"/>
<polygon points="383.0,314.4 373.5,309.7 373.5,319.2 383.0,323.9" fill="#4db4c6" stroke="#0e1f45" stroke-width="2.4" stroke-linejoin="round"/>
<polygon points="440.4,314.4 430.0,310.8 430.0,320.3 440.4,323.9" fill="#4db4c6" stroke="#0e1f45" stroke-width="2.4" stroke-linejoin="round"/>
<polygon points="393.4,310.8 383.0,314.4 383.0,323.9 393.4,320.3" fill="#4db4c6" stroke="#0e1f45" stroke-width="2.4" stroke-linejoin="round"/>
<polygon points="420.7,312.8 418.4,318.9 418.4,328.4 420.7,322.3" fill="#4db4c6" stroke="#0e1f45" stroke-width="2.4" stroke-linejoin="round"/>
<polygon points="405.0,318.9 402.7,312.8 402.7,322.3 405.0,328.4" fill="#4db4c6" stroke="#0e1f45" stroke-width="2.4" stroke-linejoin="round"/>
<polygon points="418.4,318.9 405.0,318.9 405.0,328.4 418.4,328.4" fill="#4db4c6" stroke="#0e1f45" stroke-width="2.4" stroke-linejoin="round"/>
<path d="M402.7 278.2 L405.0 272.1 L418.4 272.1 L420.7 278.2 L430.0 280.2 L440.4 276.6 L449.9 281.3 L442.7 286.4 L446.6 291.1 L459.0 292.2 L459.0 298.8 L446.6 299.9 L442.7 304.6 L449.9 309.7 L440.4 314.4 L430.0 310.8 L420.7 312.8 L418.4 318.9 L405.0 318.9 L402.7 312.8 L393.4 310.8 L383.0 314.4 L373.5 309.7 L380.7 304.6 L376.8 299.9 L364.4 298.8 L364.4 292.2 L376.8 291.1 L380.7 286.4 L373.5 281.3 L383.0 276.6 L393.4 280.2Z" fill="#5cc4bb" stroke="#0e1f45" stroke-width="2.8" stroke-linejoin="round" stroke-linecap="round" />
<ellipse cx="411.7" cy="295.5" rx="0.1" ry="0.1" fill="#4db4c6" stroke="#0e1f45" stroke-width="2.8"/>
<clipPath id="hg1"><ellipse cx="411.7" cy="295.5" rx="-0.9" ry="-0.9"/></clipPath>
<ellipse cx="411.7" cy="302.1" rx="0.1" ry="0.1" fill="#fbfdfe" stroke="#0e1f45" stroke-width="2.2" clip-path="url(#hg1)"/>
<circle cx="471.6" cy="226.0" r="16.5" fill="#5cc4bb" stroke="#0e1f45" stroke-width="3.05"/>
<line x1="411.0" y1="279.0" x2="457.0" y2="241.0" stroke="#0e1f45" stroke-width="31" stroke-linecap="round" />
<line x1="411.0" y1="279.0" x2="457.0" y2="241.0" stroke="#e6eef6" stroke-width="24.6" stroke-linecap="round" />
<path d="M393 298 V280 A19 19 0 0 1 431 280 V298 Q412 308 393 298Z" fill="#3e87d2" stroke="#0e1f45" stroke-width="3.05" stroke-linejoin="round" stroke-linecap="round" />
<circle cx="411.0" cy="279.5" r="7.6" fill="#5cc4bb" stroke="#0e1f45" stroke-width="2.8"/>
<circle cx="553.0" cy="235.5" r="11.0" fill="#3e87d2" stroke="#0e1f45" stroke-width="3.05"/>
<line x1="545.0" y1="241.0" x2="579.0" y2="292.0" stroke="#0e1f45" stroke-width="15.2" stroke-linecap="round" />
<line x1="545.0" y1="241.0" x2="579.0" y2="292.0" stroke="#b9d3e8" stroke-width="9.2" stroke-linecap="round" />
<path d="M457 224 L546 226.8 Q557 232 556.5 241 Q556 250 548 254 L457 255.8Z" fill="#e6eef6" stroke="#0e1f45" stroke-width="3.05" stroke-linejoin="round" stroke-linecap="round" />
<circle cx="545.0" cy="241.0" r="5.6" fill="#3e87d2" stroke="#0e1f45" stroke-width="2.8"/>
<circle cx="457.0" cy="241.0" r="15.6" fill="#3e87d2" stroke="#0e1f45" stroke-width="3.05"/>
<circle cx="457.0" cy="241.0" r="7.8" fill="#5cc4bb" stroke="#0e1f45" stroke-width="2.8"/>
<path d="M574 288 L563.5 310 L572.5 323 L578 319.5 L572 309.5 L583 298Z" fill="#b9d3e8" stroke="#0e1f45" stroke-width="2.8" stroke-linejoin="round" stroke-linecap="round" />
<path d="M582 286 L603.5 282 L613.5 312 L608 316 L598 291.5 L584.5 298Z" fill="#b9d3e8" stroke="#0e1f45" stroke-width="2.8" stroke-linejoin="round" stroke-linecap="round" />
<circle cx="579.0" cy="292.0" r="7.2" fill="#3e87d2" stroke="#0e1f45" stroke-width="2.8"/>
<polygon points="1314.8,422.7 1363.8,390 1370,429 1330.4,454" fill="#e6eef6"/>
<line x1="1314.8" y1="422.7" x2="1363.8" y2="390.0" stroke="#0e1f45" stroke-width="3.05" stroke-linecap="round" />
<line x1="1330.4" y1="454.0" x2="1370.0" y2="429.0" stroke="#0e1f45" stroke-width="3.05" stroke-linecap="round" />
<ellipse cx="1315.5" cy="441.5" rx="14.5" ry="18.5" transform="rotate(-32 1315.5 441.5)" fill="#3e87d2" stroke="#0e1f45" stroke-width="3.05"/>
<ellipse cx="1314.2" cy="441.2" rx="9.5" ry="12" transform="rotate(-32 1314.2 441.2)" fill="none" stroke="#0e1f45" stroke-width="2.2"/>
<circle cx="1313.5" cy="441.0" r="6.4" fill="#5cc4bb" stroke="#0e1f45" stroke-width="2.6"/>
<polygon points="1263.0,497.5 1286.7,491.5 1293.0,495.6 1279.0,503.0" fill="#f9caa4" stroke="#0e1f45" stroke-width="2.6" stroke-linejoin="round" />
<polygon points="1263.0,497.5 1279.0,503.0 1279.0,526.0 1263.0,519.5" fill="#f6b180" stroke="#0e1f45" stroke-width="2.6" stroke-linejoin="round" />
<polygon points="1279.0,503.0 1293.0,495.6 1293.0,516.5 1279.0,526.0" fill="#f0a273" stroke="#0e1f45" stroke-width="2.6" stroke-linejoin="round" />
<path d="M1300 474 L1312 472 L1312.5 496.5 L1302.5 511 Q1297.5 514.5 1294.5 509.5 L1300 495.5Z" fill="#f3f7fb" stroke="#0e1f45" stroke-width="2.8" stroke-linejoin="round" stroke-linecap="round" />
<line x1="1300.0" y1="495.5" x2="1312.5" y2="496.5" stroke="#0e1f45" stroke-width="2.4" stroke-linecap="round" />
<line x1="1246.5" y1="464.0" x2="1243.0" y2="490.0" stroke="#0e1f45" stroke-width="12.6" stroke-linecap="round" />
<line x1="1254.0" y1="469.0" x2="1249.5" y2="503.0" stroke="#0e1f45" stroke-width="12.6" stroke-linecap="round" />
<line x1="1262.0" y1="474.0" x2="1257.0" y2="513.5" stroke="#0e1f45" stroke-width="12.6" stroke-linecap="round" />
<line x1="1270.5" y1="479.0" x2="1266.5" y2="506.0" stroke="#0e1f45" stroke-width="12.6" stroke-linecap="round" />
<line x1="1246.5" y1="464.0" x2="1243.0" y2="490.0" stroke="#f3f7fb" stroke-width="7" stroke-linecap="round" />
<line x1="1240.3" y1="475.5" x2="1249.3" y2="477.5" stroke="#0e1f45" stroke-width="2.2" stroke-linecap="round" />
<line x1="1254.0" y1="469.0" x2="1249.5" y2="503.0" stroke="#f3f7fb" stroke-width="7" stroke-linecap="round" />
<line x1="1247.3" y1="484.3" x2="1256.3" y2="486.3" stroke="#0e1f45" stroke-width="2.2" stroke-linecap="round" />
<line x1="1262.0" y1="474.0" x2="1257.0" y2="513.5" stroke="#f3f7fb" stroke-width="7" stroke-linecap="round" />
<line x1="1255.1" y1="492.0" x2="1264.1" y2="494.0" stroke="#0e1f45" stroke-width="2.2" stroke-linecap="round" />
<line x1="1270.5" y1="479.0" x2="1266.5" y2="506.0" stroke="#f3f7fb" stroke-width="7" stroke-linecap="round" />
<line x1="1264.1" y1="491.0" x2="1273.1" y2="493.0" stroke="#0e1f45" stroke-width="2.2" stroke-linecap="round" />
<polygon points="1240.5,459.0 1258.5,447.5 1282.0,477.5 1267.5,488.0" fill="#f3f7fb" stroke="#0e1f45" stroke-width="2.8" stroke-linejoin="round" />
<line x1="1247.8" y1="466.8" x2="1264.8" y2="455.6" stroke="#0e1f45" stroke-width="2.2" stroke-linecap="round" />
<line x1="1254.3" y1="473.8" x2="1270.5" y2="462.8" stroke="#0e1f45" stroke-width="2.2" stroke-linecap="round" />
<line x1="1260.8" y1="480.8" x2="1276.1" y2="470.0" stroke="#0e1f45" stroke-width="2.2" stroke-linecap="round" />
<path d="M1258.5 450 L1288 437 Q1303 435.5 1311 446 Q1318.5 458 1317 470 L1311 476 Q1304 470 1297 477 Q1288 480.5 1281 477.5Z" fill="#f3f7fb" stroke="#0e1f45" stroke-width="3" stroke-linejoin="round" stroke-linecap="round" />
<path d="M1298 480 Q1297 468 1305 467.5 Q1312 468.5 1311.5 478Z" fill="#3e87d2" stroke="#0e1f45" stroke-width="2.6" stroke-linejoin="round" stroke-linecap="round" />
</svg>
</body></html>
